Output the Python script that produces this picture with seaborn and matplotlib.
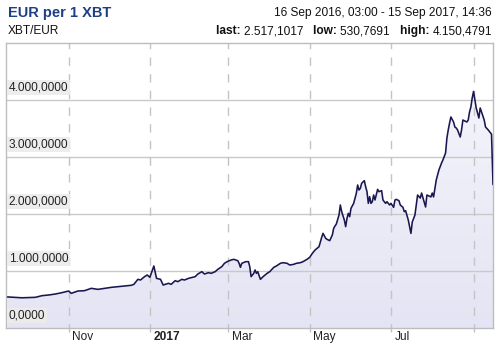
import matplotlib
matplotlib.use("Agg")
import matplotlib.pyplot as plt
import matplotlib.dates as mdates
import matplotlib.transforms as mtransforms
from matplotlib.colors import LinearSegmentedColormap
import seaborn as sns
import pandas as pd
import numpy as np

# ---- data ----
dates = [
    "2016-09-16 03:00", "2016-09-27", "2016-10-07", "2016-10-12", "2016-10-17", "2016-10-22",
    "2016-10-27", "2016-11-01", "2016-11-03", "2016-11-08", "2016-11-13", "2016-11-18",
    "2016-11-23", "2016-11-28", "2016-12-03", "2016-12-08", "2016-12-13", "2016-12-18",
    "2016-12-20", "2016-12-23", "2016-12-25", "2016-12-28", "2016-12-30", "2017-01-01",
    "2017-01-04", "2017-01-06", "2017-01-09", "2017-01-11", "2017-01-15", "2017-01-17",
    "2017-01-20", "2017-01-22", "2017-01-25", "2017-01-27", "2017-01-30", "2017-02-04",
    "2017-02-06", "2017-02-09", "2017-02-11", "2017-02-14", "2017-02-16", "2017-02-19",
    "2017-02-21", "2017-02-24", "2017-02-26", "2017-02-28", "2017-03-03", "2017-03-05",
    "2017-03-08", "2017-03-09", "2017-03-10", "2017-03-11", "2017-03-14", "2017-03-16",
    "2017-03-17", "2017-03-18", "2017-03-20", "2017-03-21", "2017-03-22", "2017-03-23",
    "2017-03-25", "2017-03-27", "2017-03-30", "2017-04-01", "2017-04-04", "2017-04-06",
    "2017-04-09", "2017-04-11", "2017-04-14", "2017-04-16", "2017-04-19", "2017-04-21",
    "2017-04-24", "2017-04-26", "2017-04-29", "2017-05-01", "2017-05-03", "2017-05-05",
    "2017-05-08", "2017-05-10", "2017-05-11", "2017-05-13", "2017-05-14", "2017-05-16",
    "2017-05-18", "2017-05-19", "2017-05-20", "2017-05-21", "2017-05-23", "2017-05-24",
    "2017-05-25", "2017-05-27", "2017-05-28", "2017-05-29", "2017-05-30", "2017-05-31",
    "2017-06-01", "2017-06-03", "2017-06-04", "2017-06-05", "2017-06-06", "2017-06-07",
    "2017-06-08", "2017-06-09", "2017-06-11", "2017-06-12", "2017-06-13", "2017-06-14",
    "2017-06-15", "2017-06-16", "2017-06-17", "2017-06-18", "2017-06-19", "2017-06-21",
    "2017-06-22", "2017-06-24", "2017-06-25", "2017-06-27", "2017-06-28", "2017-06-30",
    "2017-07-01", "2017-07-03", "2017-07-04", "2017-07-05", "2017-07-07", "2017-07-08",
    "2017-07-10", "2017-07-11", "2017-07-12", "2017-07-14", "2017-07-16", "2017-07-17",
    "2017-07-19", "2017-07-21", "2017-07-23", "2017-07-24", "2017-07-27", "2017-07-28",
    "2017-07-31", "2017-08-01", "2017-08-02", "2017-08-04", "2017-08-06", "2017-08-08",
    "2017-08-09", "2017-08-11", "2017-08-12", "2017-08-13", "2017-08-14", "2017-08-15",
    "2017-08-17", "2017-08-18", "2017-08-19", "2017-08-20", "2017-08-22", "2017-08-23",
    "2017-08-24", "2017-08-27", "2017-08-28", "2017-08-29", "2017-08-30", "2017-08-31",
    "2017-09-01", "2017-09-03", "2017-09-05", "2017-09-06", "2017-09-09", "2017-09-10",
    "2017-09-12", "2017-09-14 12:00", "2017-09-15 14:36",
]
values = [
    545, 530, 538, 567, 579, 596,
    620, 649, 608, 649, 655, 696,
    678, 696, 713, 725, 737, 749,
    766, 854, 842, 901, 930, 889,
    1088, 871, 854, 754, 784, 766,
    830, 813, 854, 842, 871, 901,
    947, 988, 947, 971, 959, 988,
    1029, 1076, 1135, 1164, 1193, 1205,
    1181, 1135, 1064, 1135, 1164, 1164,
    1076, 901, 959, 1018, 959, 988,
    854, 901, 959, 988, 1064, 1088,
    1135, 1146, 1135, 1105, 1117, 1135,
    1146, 1164, 1205, 1240, 1310, 1368,
    1427, 1591, 1661, 1573, 1556, 1532,
    1632, 1749, 1789, 1825, 1982, 2158,
    2041, 1895, 1778, 1924, 2012, 1953,
    2100, 2187, 2275, 2363, 2509, 2421,
    2450, 2538, 2585, 2479, 2392, 2187,
    2304, 2187, 2216, 2333, 2246, 2433,
    2392, 2409, 2246, 2187, 2216, 2158,
    2187, 2117, 2246, 2257, 2234, 2158,
    2117, 2041, 2058, 1895, 1660, 1860,
    1982, 2333, 2280, 2368, 2123, 2333,
    2300, 2368, 2300, 2596, 2772, 2895,
    2947, 3070, 3333, 3474, 3596, 3702,
    3614, 3526, 3509, 3474, 3351, 3474,
    3649, 3614, 3649, 3790, 3877, 4035,
    4150, 3860, 3684, 3860, 3650, 3526,
    3475, 3400, 2517,
]
ytick_values = [0, 1000, 2000, 3000, 4000]
ytick_labels = ["0,0000", "1.000,0000", "2.000,0000", "3.000,0000", "4.000,0000"]
xtick_dates = ["2016-11-01", "2017-01-01", "2017-03-01", "2017-05-01", "2017-07-01", "2017-09-01"]
xtick_labels = ["Nov", "2017", "Mar", "May", "Jul", ""]
title = "EUR per 1 XBT"
subtitle = "XBT/EUR"
range_text = "16 Sep 2016, 03:00 - 15 Sep 2017, 14:36"
stats = [("last: ", "2.517,1017"), ("low: ", "530,7691"), ("high: ", "4.150,4791")]

df = pd.DataFrame({"date": pd.to_datetime(dates, format="mixed"), "value": values})

sns.set_theme(style="white")
plt.rcParams["font.family"] = ["Liberation Sans", "DejaVu Sans"]

W, H = 500, 347
fig = plt.figure(figsize=(W / 100, H / 100), dpi=100)
ax = fig.add_axes([6 / W, 1 - 328 / H, (493 - 6) / W, (328 - 43) / H])

x0 = pd.Timestamp("2016-09-15 00:00")
x1 = pd.Timestamp("2017-09-15 14:36")
ymax = 5000

line_color = "#18184f"
# gradient fill under the curve
poly = ax.fill_between(df["date"], df["value"], 0, color="none", linewidth=0, zorder=1)
cmap = LinearSegmentedColormap.from_list("fillgrad", ["#e4e4f4", "#f4f4fb"])
grad = np.linspace(0, 1, 256).reshape(-1, 1)
img = ax.imshow(grad, cmap=cmap, aspect="auto", origin="lower",
                extent=[mdates.date2num(x0), mdates.date2num(x1), 0, 4200], zorder=1)
img.set_clip_path(poly.get_paths()[0], transform=ax.transData)

sns.lineplot(data=df, x="date", y="value", ax=ax, color=line_color, linewidth=1.15, zorder=3)

ax.set_xlim(x0, x1)
ax.set_ylim(0, ymax)

# horizontal grid
for v in ytick_values[1:]:
    ax.axhline(v, color="#c9c9c9", linewidth=1.0, zorder=2)

# vertical dashed lines, extending slightly below
xt = pd.to_datetime(xtick_dates)
for d in xt:
    ax.axvline(d, color="#c4c4c4", linewidth=1.0, linestyle=(0, (6, 6)), zorder=2,
               ymin=-0.015, clip_on=False)

ax.set_xticks(xt)
ax.set_xticklabels([])
ax.set_yticks([])
ax.tick_params(length=0)
ax.set_xlabel("")
ax.set_ylabel("")

for s in ["left", "top", "right", "bottom"]:
    ax.spines[s].set_color("#bdbdbd")
    ax.spines[s].set_linewidth(1.0)

# y labels inside the plot
trans = mtransforms.blended_transform_factory(ax.transAxes, ax.transData)
for v, lab in zip(ytick_values, ytick_labels):
    ax.text(0.006, v + 110, lab, transform=trans, fontsize=8.6, color="#222222",
            va="bottom", ha="left", zorder=4,
            bbox=dict(boxstyle="square,pad=0.12", facecolor="#ececec", edgecolor="none", alpha=0.9))

# x labels, left aligned next to dashed lines
xtrans = mtransforms.blended_transform_factory(ax.transData, ax.transAxes)
for d, lab in zip(xt, xtick_labels):
    ax.text(mdates.date2num(d) + 2.5, -0.01, lab, transform=xtrans, fontsize=8.6,
            color="#222222", ha="left", va="top",
            fontweight="bold" if lab == "2017" else "normal")

# header texts
fig.text(8 / W, 1 - 13 / H, title, fontsize=10.5, fontweight="bold", color="#1f3f84",
         ha="left", va="center")
fig.text(8 / W, 1 - 31 / H, subtitle, fontsize=8.6, color="#111111", ha="left", va="center")
fig.text(492 / W, 1 - 13 / H, range_text, fontsize=8.6, color="#111111", ha="right", va="center")

# stats line: right-aligned sequence of bold label + value
fig.canvas.draw()
renderer = fig.canvas.get_renderer()
x_right = 492.0
pieces = []
for i, (lab, val) in enumerate(stats):
    pieces.append((lab, "bold"))
    pieces.append((val + ("   " if i < len(stats) - 1 else ""), "normal"))
for txt, wgt in reversed(pieces):
    t = fig.text(x_right / W, 1 - 31 / H, txt, fontsize=8.6, fontweight=wgt,
                 color="#111111", ha="right", va="center")
    bb = t.get_window_extent(renderer)
    x_right -= bb.width

fig.savefig("out.png", dpi=100)
